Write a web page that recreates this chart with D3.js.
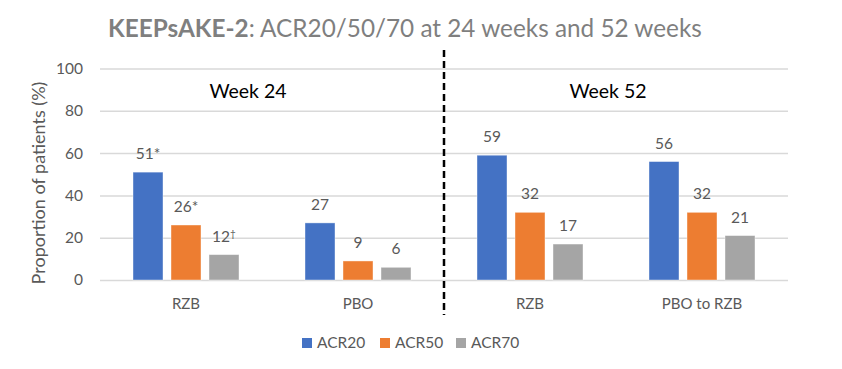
<!DOCTYPE html>
<html>
<head>
<meta charset="utf-8">
<script src="https://cdn.jsdelivr.net/npm/d3@7"></script>
<style>
  body { margin: 0; background: #fff; }
  text { font-family: Lato, "Open Sans", sans-serif; }
</style>
</head>
<body>
<script>
// data
var groups = ["RZB", "PBO", "RZB", "PBO to RZB"];
var weeks = ["Week 24", "Week 52"];
var series = ["ACR20", "ACR50", "ACR70"];
var acr20 = [51, 27, 59, 56];
var acr50 = [26, 9, 32, 32];
var acr70 = [12, 6, 17, 21];
var marks20 = ["*", "", "", ""];
var marks50 = ["*", "", "", ""];
var marks70 = ["\u2020", "", "", ""];
var colors = ["#4472C4", "#ED7D31", "#A5A5A5"];
var yTicks = [0, 20, 40, 60, 80, 100];

var W = 842, H = 369;
var svg = d3.select("body").append("svg")
    .attr("width", W)
    .attr("height", H);

var x0 = d3.scaleBand()
    .domain(d3.range(groups.length))
    .range([100, 788]);

var x1 = d3.scaleBand()
    .domain(series)
    .range([0, 106])
    .paddingInner(8 / 38);

var inset = (x0.bandwidth() - 106) / 2;

var y = d3.scaleLinear()
    .domain([0, 100])
    .range([280, 68.5]);

// gridlines + tick labels
var yAxis = d3.axisLeft(y)
    .tickValues(yTicks)
    .tickSize(-(788 - 100))
    .tickPadding(17);

var ga = svg.append("g")
    .attr("transform", "translate(100,0)")
    .call(yAxis);
ga.select(".domain").remove();
ga.selectAll(".tick line")
    .attr("stroke", "#d9d9d9")
    .attr("stroke-width", 1.5);
ga.selectAll(".tick text")
    .attr("fill", "#595959")
    .style("font-size", "15.5px")
    .style("font-family", "Lato, sans-serif");

// y axis title
svg.append("text")
    .attr("transform", "translate(45,183) rotate(-90)")
    .attr("text-anchor", "middle")
    .attr("fill", "#595959")
    .style("font-size", "18px")
    .text("Proportion of patients (%)");

// bars
var rows = groups.map(function(g, i){
    return {
	i: i,
	vals: [
	    {s: "ACR20", v: acr20[i], m: marks20[i]},
	    {s: "ACR50", v: acr50[i], m: marks50[i]},
	    {s: "ACR70", v: acr70[i], m: marks70[i]}
	]
    };
});

var color = d3.scaleOrdinal().domain(series).range(colors);

var gg = svg.selectAll("g.grp")
    .data(rows)
    .enter().append("g")
    .attr("class", "grp")
    .attr("transform", function(d){
	return "translate(" + (x0(d.i) + inset) + ",0)";
    });

gg.selectAll("rect")
    .data(function(d){ return d.vals; })
    .enter().append("rect")
    .attr("x", function(d){ return x1(d.s); })
    .attr("y", function(d){ return y(d.v); })
    .attr("width", x1.bandwidth())
    .attr("height", function(d){ return y(0) - y(d.v); })
    .attr("fill", function(d){ return color(d.s); })
    .attr("stroke", "#fff")
    .attr("stroke-opacity", 0.5)
    .attr("stroke-width", 0.8);

var lbl = gg.selectAll("text.val")
    .data(function(d){ return d.vals; })
    .enter().append("text")
    .attr("class", "val")
    .attr("x", function(d){ return x1(d.s) + x1.bandwidth() / 2; })
    .attr("y", function(d){ return y(d.v) - 13; })
    .attr("text-anchor", "middle")
    .attr("fill", "#595959")
    .style("font-size", "15.5px");
lbl.append("tspan").text(function(d){ return d.v; });
lbl.append("tspan")
    .text(function(d){ return d.m; })
    .attr("dy", function(d){ return d.m == "\u2020" ? -5 : 0; })
    .style("font-size", function(d){ return d.m == "\u2020" ? "10px" : null; });

// category labels
svg.selectAll("text.cat")
    .data(groups)
    .enter().append("text")
    .attr("class", "cat")
    .attr("x", function(d, i){ return x0(i) + x0.bandwidth() / 2; })
    .attr("y", 309)
    .attr("text-anchor", "middle")
    .attr("fill", "#595959")
    .style("font-size", "15px")
    .text(function(d){ return d; });

// week labels
svg.selectAll("text.week")
    .data(weeks)
    .enter().append("text")
    .attr("class", "week")
    .attr("x", function(d, i){ return [248, 608][i]; })
    .attr("y", 98)
    .attr("text-anchor", "middle")
    .attr("fill", "#000")
    .style("font-size", "19.5px")
    .text(function(d){ return d; });

// divider
svg.append("line")
    .attr("x1", x0(2))
    .attr("x2", x0(2))
    .attr("y1", 50)
    .attr("y2", 315)
    .attr("stroke", "#000")
    .attr("stroke-width", 2.5)
    .attr("stroke-dasharray", "7,4");

// title
var title = svg.append("text")
    .attr("x", 108)
    .attr("y", 37)
    .attr("fill", "#7f7f7f")
    .style("font-size", "26px");
title.append("tspan").style("font-weight", "bold").text("KEEPsAKE-2");
title.append("tspan").text(": ACR20/50/70 at 24 weeks and 52 weeks");
// squeeze to the reference width
var tw = title.node().getComputedTextLength();
title.style("font-size", (26 * 594 / tw) + "px");

// legend
var lg = svg.selectAll("g.leg")
    .data(series)
    .enter().append("g")
    .attr("class", "leg")
    .attr("transform", function(d, i){
	return "translate(" + [302, 380, 456][i] + ",338)";
    });
lg.append("rect")
    .attr("width", 10)
    .attr("height", 10)
    .attr("fill", function(d){ return color(d); });
lg.append("text")
    .attr("x", 15)
    .attr("y", 10)
    .attr("fill", "#595959")
    .style("font-size", "15.5px")
    .text(function(d){ return d; });
</script>
</body>
</html>
